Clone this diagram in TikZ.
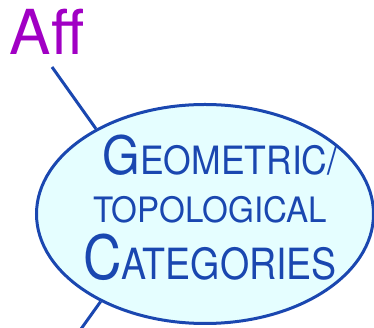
\documentclass[tikz,border=0pt]{standalone}
\usepackage{fontspec}
\setmainfont{TeX Gyre Heros}
\usepackage{graphicx}
\usepackage{xcolor}
\usepackage{tikz}
\usetikzlibrary{shapes.geometric, positioning}

\definecolor{catblue}{HTML}{1A47B0}
\definecolor{catfill}{HTML}{E5FEFF}
\definecolor{affpurple}{HTML}{A100C4}

\newcommand{\fsz}[1]{\fontsize{#1}{#1}\selectfont}

\begin{document}
\begin{tikzpicture}[x=1pt, y=1pt,
    catline/.style={draw=catblue, line width=3pt},
    cattext/.style={text=catblue, inner sep=0pt, anchor=base}]
        \useasboundingbox (0,0) rectangle (374,328);

        % the category blob
        \node[ellipse, catline, fill=catfill, minimum width=337pt, minimum height=219pt, inner sep=0pt] (cats) at (205,114) {};

        % its label, one node per line
        \node[cattext] (geo) at (220,153) {\resizebox{235pt}{\height}{\fsz{53}G\fsz{39}EOMETRIC/}};
        \node[cattext] (topo) at (210,105) {\resizebox{234pt}{\height}{\fsz{35}TOPOLOGICAL}};
        \node[cattext] (cat) at (210,48) {\resizebox{254pt}{\height}{\fsz{61}C\fsz{43}ATEGORIES}};

        % Aff on top
        \node[text=affpurple, inner sep=0pt, anchor=base, font=\fsz{62}] (aff) at (47,273) {Aff};

        % links
        \coordinate (down) at (76,-8);
        \draw[catline] ([xshift=5pt, yshift=-12pt]aff.base) -- (cats.142);
        \draw[catline] (cats.220) -- (down);
    \end{tikzpicture}
\end{document}
